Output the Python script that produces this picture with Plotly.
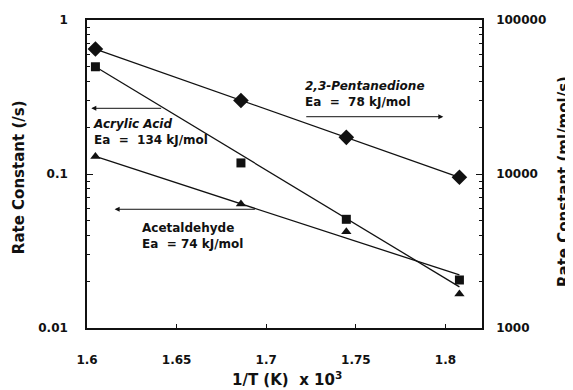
import plotly.graph_objects as go

# ---- data ----
inv_T = [1.6047, 1.6859, 1.7447, 1.8078]          # 1/T (K) x 10^3
acrylic_acid = [0.497, 0.118, 0.0508, 0.0205]      # /s (left axis)
acetaldehyde = [0.130, 0.0638, 0.0422, 0.0166]     # /s (left axis)
pentanedione = [64800, 30000, 17300, 9520]         # ml/mol/s (right axis)

fit_x = [1.6047, 1.8078]
acrylic_fit = [0.497, 0.0185]
acetaldehyde_fit = [0.130, 0.0221]
pentanedione_fit = [64800, 9520]

left_ticks = [0.01, 0.1, 1]
left_ticktext = ["0.01", "0.1", "1"]
right_ticks = [1000, 10000, 100000]
right_ticktext = ["1000", "10000", "100000"]
left_minor = [m * d for d in (0.01, 0.1) for m in range(2, 10)]
right_minor = [m * d for d in (1000, 10000) for m in range(2, 10)]
x_ticks = [1.6, 1.65, 1.7, 1.75, 1.8]
x_ticktext = ["1.6", "1.65", "1.7", "1.75", "1.8"]

FONT = "DejaVu Sans"
INK = "#111111"

fig = go.Figure()

line_style = dict(color=INK, width=1.3)
fig.add_trace(go.Scatter(x=fit_x, y=acrylic_fit, mode="lines", line=line_style, showlegend=False, hoverinfo="skip"))
fig.add_trace(go.Scatter(x=fit_x, y=acetaldehyde_fit, mode="lines", line=line_style, showlegend=False, hoverinfo="skip"))
fig.add_trace(go.Scatter(x=fit_x, y=pentanedione_fit, mode="lines", line=line_style, yaxis="y2", showlegend=False, hoverinfo="skip"))

fig.add_trace(go.Scatter(x=inv_T, y=acrylic_acid, mode="markers", name="Acrylic Acid",
                         marker=dict(symbol="square", size=9, color=INK), showlegend=False))
fig.add_trace(go.Scatter(x=inv_T, y=acetaldehyde, mode="markers", name="Acetaldehyde",
                         marker=dict(symbol="triangle-up", size=9, color=INK), showlegend=False))
fig.add_trace(go.Scatter(x=inv_T, y=pentanedione, mode="markers", name="2,3-Pentanedione", yaxis="y2",
                         marker=dict(symbol="diamond", size=12, color=INK), showlegend=False))

tickfont = dict(family=FONT, size=12, color=INK, weight="bold")
annfont = dict(family=FONT, size=12, color=INK, weight="bold")
titlefont = dict(family=FONT, size=15, color=INK, weight="bold")

common = dict(showgrid=False, zeroline=False, automargin=False, tickcolor=INK)

# the page adds an 8px body margin, so the figure is 8px smaller and shifted
fig.update_layout(
    width=565, height=382,
    margin=dict(l=79, r=91, t=12, b=62, autoexpand=False),
    paper_bgcolor="white", plot_bgcolor="white",
    xaxis=dict(range=[1.6, 1.8204], tickvals=x_ticks, ticktext=x_ticktext,
               ticks="inside", ticklen=4,
               showline=True, linecolor=INK, linewidth=1.5, mirror=True,
               tickfont=tickfont, ticklabelstandoff=20, **common),
    yaxis=dict(type="log", range=[-2, 0], tickvals=left_ticks, ticktext=left_ticktext,
               ticks="inside", ticklen=6,
               showline=True, linecolor=INK, linewidth=1.5,
               tickfont=tickfont, ticklabelstandoff=15, **common),
    yaxis2=dict(type="log", range=[3, 5], overlaying="y", side="right",
                tickvals=right_ticks, ticktext=right_ticktext,
                ticks="inside", ticklen=6,
                showline=True, linecolor=INK, linewidth=1.5,
                tickfont=tickfont, ticklabelstandoff=10, **common),
    yaxis3=dict(type="log", range=[-2, 0], overlaying="y", side="left",
                tickvals=left_minor, showticklabels=False, ticks="inside", ticklen=3, tickwidth=1,
                showline=False, **common),
    yaxis4=dict(type="log", range=[3, 5], overlaying="y", side="right",
                tickvals=right_minor, showticklabels=False, ticks="inside", ticklen=3, tickwidth=1,
                showline=False, **common),
)
# invisible traces so the minor-tick axes are drawn
fig.add_trace(go.Scatter(x=[inv_T[0]], y=[acrylic_acid[0]], yaxis="y3", mode="markers",
                         marker=dict(opacity=0), showlegend=False, hoverinfo="skip"))
fig.add_trace(go.Scatter(x=[inv_T[0]], y=[pentanedione[0]], yaxis="y4", mode="markers",
                         marker=dict(opacity=0), showlegend=False, hoverinfo="skip"))

arrow = dict(showarrow=True, arrowhead=2, arrowsize=1, arrowwidth=1, arrowcolor=INK,
             text="", xref="x", yref="y", axref="x", ayref="y", standoff=0, startstandoff=0)
# Acrylic acid arrow (points left)
fig.add_annotation(x=1.6024, y=-0.5734, ax=1.6422, ay=-0.5734, **arrow)
# 2,3-Pentanedione arrow (points right)
fig.add_annotation(x=1.7988, y=-0.628, ax=1.7215, ay=-0.628, **arrow)
# Acetaldehyde arrow (points left)
fig.add_annotation(x=1.6154, y=-1.229, ax=1.6945, ay=-1.229, **arrow)

label = dict(showarrow=False, xref="x", yref="y", xanchor="left", yanchor="middle",
             align="left", font=annfont)
fig.add_annotation(x=1.6023, y=-0.727, text="<i>Acrylic Acid</i><br>Ea  =  134 kJ/mol", **label)
fig.add_annotation(x=1.7206, y=-0.482, text="<i>2,3-Pentanedione</i><br>Ea  =  78 kJ/mol", **label)
fig.add_annotation(x=1.6293, y=-1.401, text="Acetaldehyde<br>Ea  = 74 kJ/mol", **label)

# axis titles
fig.add_annotation(x=-0.172, y=0.490, xref="paper", yref="paper", text="Rate Constant (/s)",
                   textangle=-90, showarrow=False, xanchor="center", yanchor="middle", font=titlefont)
fig.add_annotation(x=1.2076, y=0.474, xref="paper", yref="paper", text="Rate Constant (ml/mol/s)",
                   textangle=-90, showarrow=False, xanchor="center", yanchor="middle", font=titlefont)
fig.add_annotation(x=0.506, y=-0.165, xref="paper", yref="paper", text="1/T (K)  x 10<sup>3</sup>",
                   showarrow=False, xanchor="center", yanchor="middle", font=titlefont)

fig.write_html("out.html")
